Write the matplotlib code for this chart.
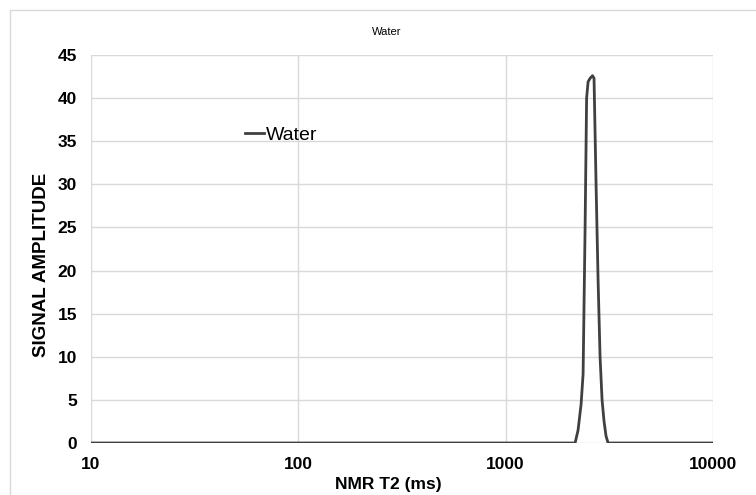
import matplotlib
matplotlib.use("Agg")
import matplotlib.pyplot as plt
from matplotlib.patches import Rectangle

# Data (NMR T2 distribution)
t2_ms = [10, 2162, 2235, 2311, 2363, 2416, 2457, 2498, 2554, 2624, 2668,
         2729, 2790, 2853, 2917, 2982, 3049, 3119, 10000]
amplitude = [0, 0, 1.5, 4.5, 8, 25, 40, 41.9, 42.3, 42.6, 42.3,
             30, 19, 10, 5, 2.5, 0.8, 0, 0]
series_name = "Water"
x_ticks = [10, 100, 1000, 10000]
x_tick_labels = ["10", "100", "1000", "10000"]
y_ticks = [0, 5, 10, 15, 20, 25, 30, 35, 40, 45]

plt.rcParams['font.family'] = ['Liberation Sans', 'DejaVu Sans']

fig = plt.figure(figsize=(7.56, 4.95), dpi=100)
ax = fig.add_axes([91/756, 1 - 443/495, (713-91)/756, (443-55)/495])

grid_c = "#d9d9d9"
ax.plot(t2_ms, amplitude, color="#404040", lw=2.0, label=series_name,
        solid_joinstyle='round', zorder=3)

ax.set_xscale("log")
ax.set_xlim(10, 10000)
ax.set_ylim(0, 45)
ax.set_xticks(x_ticks)
ax.set_xticklabels(x_tick_labels)
ax.minorticks_off()
ax.set_yticks(y_ticks)
ax.tick_params(axis='both', length=0, labelsize=12.5)
ax.tick_params(axis='y', pad=10)
ax.tick_params(axis='x', pad=10)
for lbl in ax.get_xticklabels() + ax.get_yticklabels():
    lbl.set_fontweight('bold')
ax.grid(True, color=grid_c, lw=1)
ax.set_axisbelow(True)
for s in ax.spines.values():
    s.set_visible(False)

fig.text(388/756, 1 - 484/495, "NMR T2 (ms)", fontsize=12.5, fontweight='bold',
         ha='center', va='center')
fig.text(42/756, 1 - 265/495, "SIGNAL AMPLITUDE", rotation=90, fontsize=13.5,
         fontweight='bold', ha='center', va='center')
fig.text(387/756, 1 - 32/495, "Water", fontsize=8, ha='center', va='center')

leg = ax.legend(loc='center left', bbox_to_anchor=(0.247, 0.794), frameon=False,
                handlelength=1.0, handletextpad=0.1, borderpad=0, borderaxespad=0,
                fontsize=14)

fig.patches.append(Rectangle((10/756, -0.1), 1.2, 1.1 - 10/495, transform=fig.transFigure,
                             fill=False, edgecolor=grid_c, lw=1))

fig.savefig("out.png", dpi=100)
